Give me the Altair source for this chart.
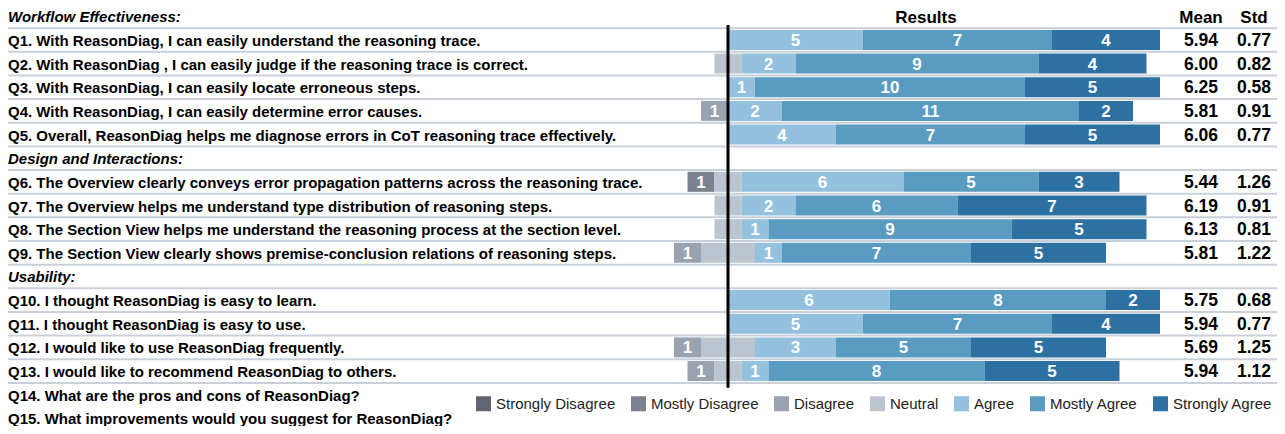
import altair as alt
import pandas as pd

FONT = "Liberation Sans"

levels = ["Strongly Disagree", "Mostly Disagree", "Disagree", "Neutral",
          "Agree", "Mostly Agree", "Strongly Agree"]
level_colors = ["#5f6571", "#7c828d", "#99a3b0", "#bcc5cf",
                "#93c1de", "#5a9bc1", "#2c71a2"]

row_texts = [
    "Workflow Effectiveness:",
    "Q1. With ReasonDiag, I can easily understand the reasoning trace.",
    "Q2. With ReasonDiag , I can easily judge if the reasoning trace is correct.",
    "Q3. With ReasonDiag, I can easily locate erroneous steps.",
    "Q4. With ReasonDiag, I can easily determine error causes.",
    "Q5. Overall, ReasonDiag helps me diagnose errors in CoT reasoning trace effectively.",
    "Design and Interactions:",
    "Q6. The Overview clearly conveys error propagation patterns across the reasoning trace.",
    "Q7. The Overview helps me understand type distribution of reasoning steps.",
    "Q8. The Section View helps me understand the reasoning process at the section level.",
    "Q9. The Section View clearly shows premise-conclusion relations of reasoning steps.",
    "Usability:",
    "Q10. I thought ReasonDiag is easy to learn.",
    "Q11. I thought ReasonDiag is easy to use.",
    "Q12. I would like to use ReasonDiag frequently.",
    "Q13. I would like to recommend ReasonDiag to others.",
    "Q14. What are the pros and cons of ReasonDiag?",
    "Q15. What improvements would you suggest for ReasonDiag?",
]
header_rows = [0, 6, 11]
rated_rows = [1, 2, 3, 4, 5, 7, 8, 9, 10, 12, 13, 14, 15]

strongly_disagree = [0, 0, 0, 0, 0, 0, 0, 0, 0, 0, 0, 0, 0]
mostly_disagree   = [0, 0, 0, 0, 0, 1, 0, 0, 0, 0, 0, 0, 0]
disagree          = [0, 0, 0, 1, 0, 0, 0, 0, 1, 0, 0, 1, 1]
neutral           = [0, 1, 0, 0, 0, 1, 1, 1, 2, 0, 0, 2, 1]
agree             = [5, 2, 1, 2, 4, 6, 2, 1, 1, 6, 5, 3, 1]
mostly_agree      = [7, 9, 10, 11, 7, 5, 6, 9, 7, 8, 7, 5, 8]
strongly_agree    = [4, 4, 5, 2, 5, 3, 7, 5, 5, 2, 4, 5, 5]

means = ["5.94", "6.00", "6.25", "5.81", "6.06", "5.44", "6.19", "6.13", "5.81",
         "5.75", "5.94", "5.69", "5.94"]
stds = ["0.77", "0.82", "0.58", "0.91", "0.77", "1.26", "0.91", "0.81", "1.22",
        "0.68", "0.77", "1.25", "1.12"]

column_headers = ["Results", "Mean", "Std"]

# ---- build tables ----
count_cols = [strongly_disagree, mostly_disagree, disagree, neutral,
              agree, mostly_agree, strongly_agree]
segs = []
for i, row in enumerate(rated_rows):
    counts = [c[i] for c in count_cols]
    start = -(counts[0] + counts[1] + counts[2]) - counts[3] / 2
    for lev, cnt in zip(levels, counts):
        if cnt > 0:
            segs.append({"row": row, "level": lev, "x0": start, "x1": start + cnt,
                         "mid": start + cnt / 2, "count": cnt,
                         "label": "" if lev == "Neutral" else str(cnt)})
            start += cnt
seg_df = pd.DataFrame(segs)

questions_df = pd.DataFrame({"row": [r for r in range(len(row_texts)) if r not in header_rows],
                             "text": [t for r, t in enumerate(row_texts) if r not in header_rows]})
headers_df = pd.DataFrame({"row": header_rows, "text": [row_texts[r] for r in header_rows]})
stats_df = pd.DataFrame({"row": rated_rows, "mean": means, "std": stds})
sep_df = pd.DataFrame({"row": [r + 0.5 for r in range(16)]})
axis_df = pd.DataFrame({"x": [0], "y0": [0.37], "y1": [15.71]})
colhead_df = pd.DataFrame({"row": [0], "results": [column_headers[0]],
                           "mean": [column_headers[1]], "std": [column_headers[2]]})

W, H = 1269, 418
ROW0, STEP = 8.3, 23.65   # chart-pixel centre of row 0 and row pitch
x_scale = alt.Scale(domain=[-720 / 27, (W - 720) / 27], nice=False, zero=False, padding=0)
y_scale = alt.Scale(domain=[-ROW0 / STEP, (H - ROW0) / STEP], reverse=True, nice=False,
                    zero=False, padding=0)
Y = alt.Y("row:Q", scale=y_scale, axis=None)

sep = alt.Chart(sep_df).mark_rule(color="#c9d0da", strokeWidth=2).encode(
    y=Y, x=alt.value(0), x2=alt.value(1271))

bars = alt.Chart(seg_df).mark_bar(orient="horizontal", size=20).encode(
    x=alt.X("x0:Q", scale=x_scale, axis=None),
    x2="x1:Q",
    y=Y,
    color=alt.Color("level:N",
                    scale=alt.Scale(domain=levels, range=level_colors),
                    legend=alt.Legend(title=None, orient="none", legendX=468, legendY=388,
                                      direction="horizontal", columns=7,
                                      symbolType="square", symbolSize=225,
                                      symbolStrokeWidth=0, symbolOpacity=1,
                                      labelFont=FONT, labelFontSize=15, labelColor="#222",
                                      labelOffset=5, columnPadding=15, padding=0)),
)

bar_labels = alt.Chart(seg_df).mark_text(font=FONT, fontSize=17, fontWeight="bold",
                                         color="white", baseline="middle", align="center",
                                         dy=1).encode(
    x=alt.X("mid:Q", scale=x_scale, axis=None), y=Y, text="label:N")

vline = alt.Chart(axis_df).mark_rule(color="black", strokeWidth=3).encode(
    x=alt.X("x:Q", scale=x_scale, axis=None),
    y=alt.Y("y0:Q", scale=y_scale, axis=None), y2="y1:Q")

q_text = alt.Chart(questions_df).mark_text(font=FONT, fontSize=15, fontWeight="bold",
                                           color="black", align="left", baseline="middle",
                                           dy=1).encode(
    x=alt.value(0), y=Y, text="text:N")

h_text = alt.Chart(headers_df).mark_text(font=FONT, fontSize=15, fontWeight="bold",
                                         fontStyle="italic", color="black", align="left",
                                         baseline="middle", dy=1).encode(
    x=alt.value(0), y=Y, text="text:N")

big = dict(font=FONT, fontSize=17.5, fontWeight="bold", color="black",
           align="center", baseline="middle", dy=1)
head = dict(font=FONT, fontSize=17, fontWeight="bold", color="black",
            align="center", baseline="middle", dy=2)
res_head = alt.Chart(colhead_df).mark_text(**head).encode(x=alt.value(918), y=Y, text="results:N")
mean_head = alt.Chart(colhead_df).mark_text(**head).encode(x=alt.value(1193), y=Y, text="mean:N")
std_head = alt.Chart(colhead_df).mark_text(**head).encode(x=alt.value(1246), y=Y, text="std:N")
mean_vals = alt.Chart(stats_df).mark_text(**big).encode(x=alt.value(1193), y=Y, text="mean:N")
std_vals = alt.Chart(stats_df).mark_text(**big).encode(x=alt.value(1246), y=Y, text="std:N")

chart = alt.layer(sep, bars, bar_labels, vline, q_text, h_text,
                  res_head, mean_head, std_head, mean_vals, std_vals).properties(
    width=W, height=H, padding=0, autosize=alt.AutoSizeParams(type="none"),
).configure_view(stroke=None)

chart.save("out.html", embed_options={"renderer": "svg", "actions": False})
